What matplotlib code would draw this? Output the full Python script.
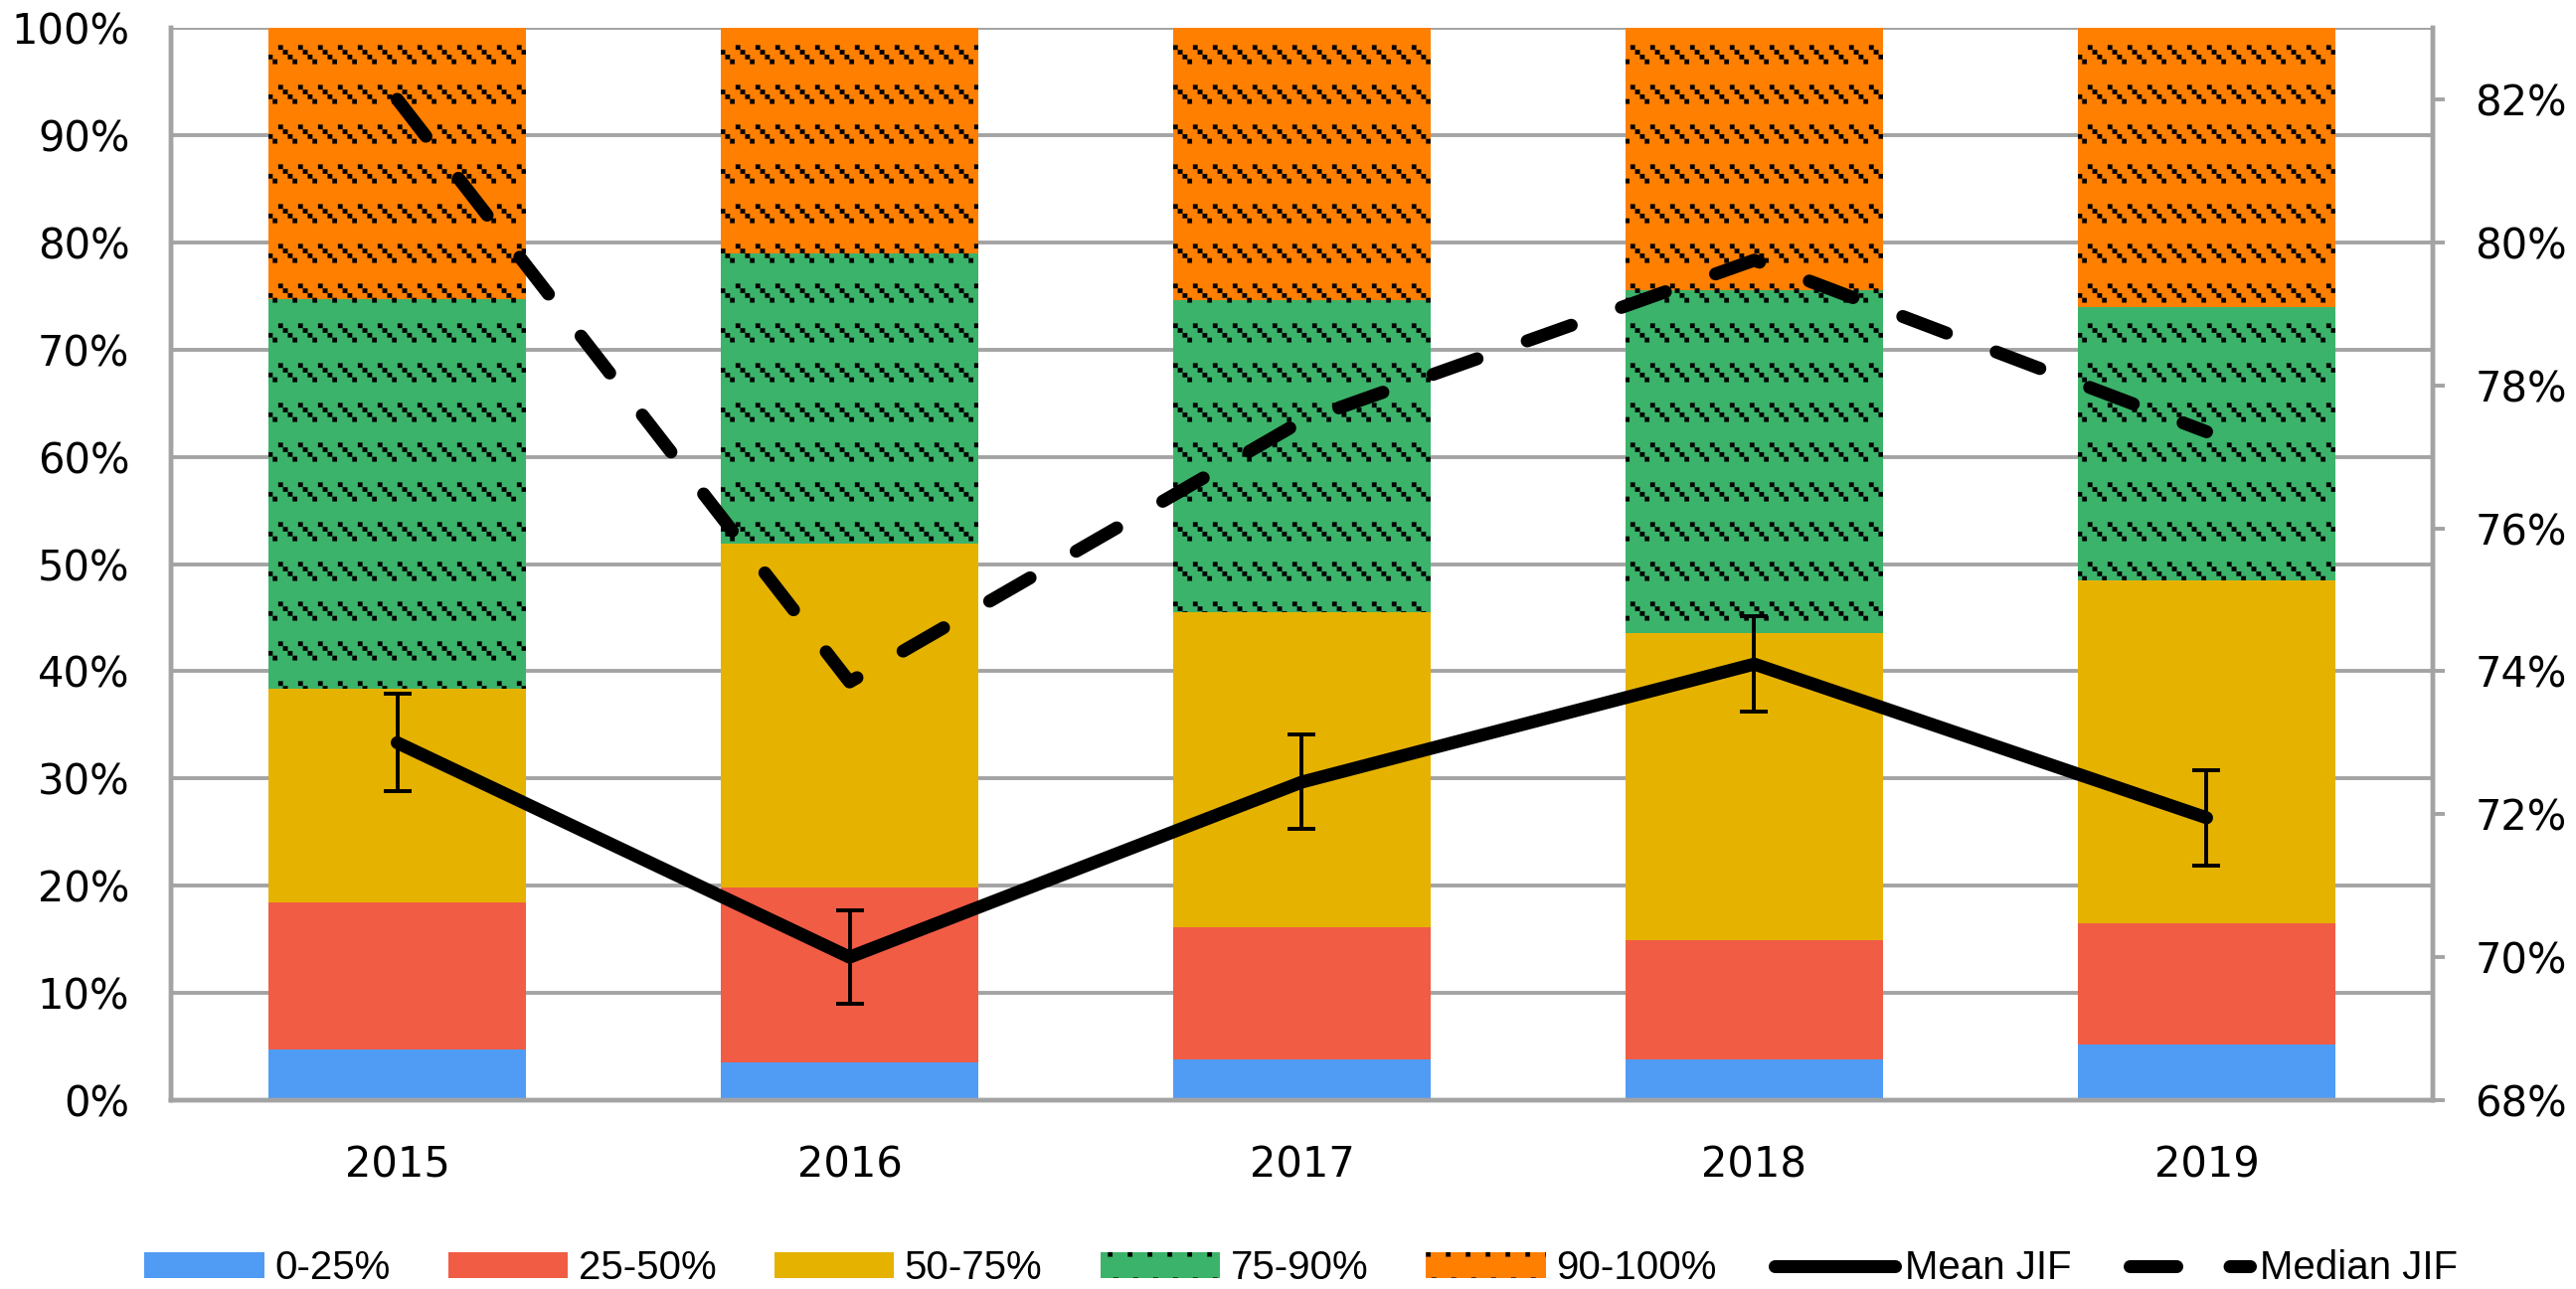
import numpy as np
import matplotlib
matplotlib.use("Agg")
import matplotlib.pyplot as plt
import matplotlib.hatch as mhatch
from matplotlib.path import Path
from matplotlib.ticker import PercentFormatter
from matplotlib import font_manager as fm

# data (percent)
years = ['2015', '2016', '2017', '2018', '2019']
q0_25 = [4.7, 3.5, 3.8, 3.8, 5.2]
q25_50 = [13.7, 16.3, 12.3, 11.1, 11.3]
q50_75 = [20.0, 32.1, 29.4, 28.7, 32.0]
q75_90 = [36.3, 27.1, 29.1, 31.9, 25.5]
q90_100 = [25.3, 21.0, 25.4, 24.5, 26.0]
mean_jif = [73.0, 70.0, 72.45, 74.1, 71.95]
mean_err = [0.68, 0.65, 0.66, 0.67, 0.67]
median_jif = [82.0, 73.85, 77.5, 79.75, 77.35]

series = [q0_25, q25_50, q50_75, q75_90, q90_100]
labels = ['0-25%', '25-50%', '50-75%', '75-90%', '90-100%']
colors = ['#509cf5', '#f15c45', '#e6b200', '#3cb36a', '#ff7f00']
hatches = [None, None, None, '.', '.']


class DotDashHatch(mhatch.HatchPatternBase):
    # rows of short diagonal dotted dashes, like the Excel pattern fill
    cols, rows, ndots = 10, 5, 4
    size, step = 0.0225, 0.024

    def __init__(self, hatch, density):
        if hatch is not None and '.' in hatch:
            self.num_vertices = 5 * self.ndots * (self.cols + 2) * (self.rows + 2)
        else:
            self.num_vertices = 0

    def set_vertices_and_codes(self, vertices, codes):
        sq = np.array([[0, 0], [1, 0], [1, 1], [0, 1], [0, 0]]) * self.size
        cc = [Path.MOVETO, Path.LINETO, Path.LINETO, Path.LINETO, Path.CLOSEPOLY]
        i = 0
        for r in range(-1, self.rows + 1):
            y0 = (r + 0.75) / self.rows
            for c in range(-1, self.cols + 1):
                x0 = c / self.cols
                for k in range(self.ndots):
                    vertices[i:i + 5] = sq + [x0 + k * self.step, y0 - k * self.step]
                    codes[i:i + 5] = cc
                    i += 5


mhatch._hatch_types = [t for t in mhatch._hatch_types
                       if t is not mhatch.SmallFilledCircles] + [DotDashHatch]
plt.rcParams['hatch.linewidth'] = 0.1
plt.rcParams['font.family'] = 'DejaVu Sans'

names = {f.name for f in fm.fontManager.ttflist}
legend_font = 'Liberation Sans Narrow' if 'Liberation Sans Narrow' in names else 'Liberation Sans'

grey = '#a3a3a3'
fig = plt.figure(figsize=(12.955, 6.485), dpi=200)
ax = fig.add_axes([0.0664, 0.1465, 0.878, 0.8319])
x = np.arange(len(years))

bottom = np.zeros(len(years))
for vals, lab, col, h in zip(series, labels, colors, hatches):
    ax.bar(x, vals, 0.57, bottom=bottom, color=col, edgecolor='black',
           linewidth=0, hatch=h, label=lab)
    bottom += np.array(vals)

ax.set_xlim(-0.5, len(years) - 0.5)
ax.set_ylim(0, 100)
ax.set_yticks(np.arange(0, 101, 10))
ax.yaxis.set_major_formatter(PercentFormatter(100, decimals=0))
ax.set_xticks(x)
ax.set_xticklabels(years)
ax.set_axisbelow(True)
ax.yaxis.grid(True, color=grey, linewidth=1.4)
ax.tick_params(axis='y', length=0, pad=15, labelsize=15)
ax.tick_params(axis='x', length=0, pad=16, labelsize=15)
ax.spines['top'].set_visible(False)
for s in ['left', 'bottom', 'right']:
    ax.spines[s].set_color(grey)
    ax.spines[s].set_linewidth(1.6)

ax2 = ax.twinx()
ax2.errorbar(x, mean_jif, yerr=mean_err, fmt='none', ecolor='black',
             elinewidth=1.4, capsize=5.2, capthick=1.4)
ln_mean, = ax2.plot(x, mean_jif, color='black', lw=4.7,
                    solid_capstyle='round', solid_joinstyle='round', label='Mean JIF')
ln_med, = ax2.plot(x, median_jif, color='black', lw=4.7, linestyle=(0, (3.6, 4.1)),
                   dash_capstyle='round', label='Median JIF')
ax2.set_ylim(68, 83)
ax2.set_yticks(np.arange(68, 83, 2))
ax2.yaxis.set_major_formatter(PercentFormatter(100, decimals=0))
ax2.tick_params(axis='y', length=4.3, width=1.4, color=grey, pad=11, labelsize=15)
ax2.spines['top'].set_visible(False)
for s in ['left', 'bottom', 'right']:
    ax2.spines[s].set_color(grey)
    ax2.spines[s].set_linewidth(1.6)

handles, labs = ax.get_legend_handles_labels()
handles += [ln_mean, ln_med]
labs += ['Mean JIF', 'Median JIF']
fig.legend(handles, labs, loc='center', bbox_to_anchor=(0.505, 0.016), ncol=7,
           frameon=False, handlelength=3.0, handleheight=0.62, handletextpad=0.25,
           columnspacing=1.45, prop={'family': legend_font, 'size': 14.5})

fig.savefig('out.png', dpi=200)
